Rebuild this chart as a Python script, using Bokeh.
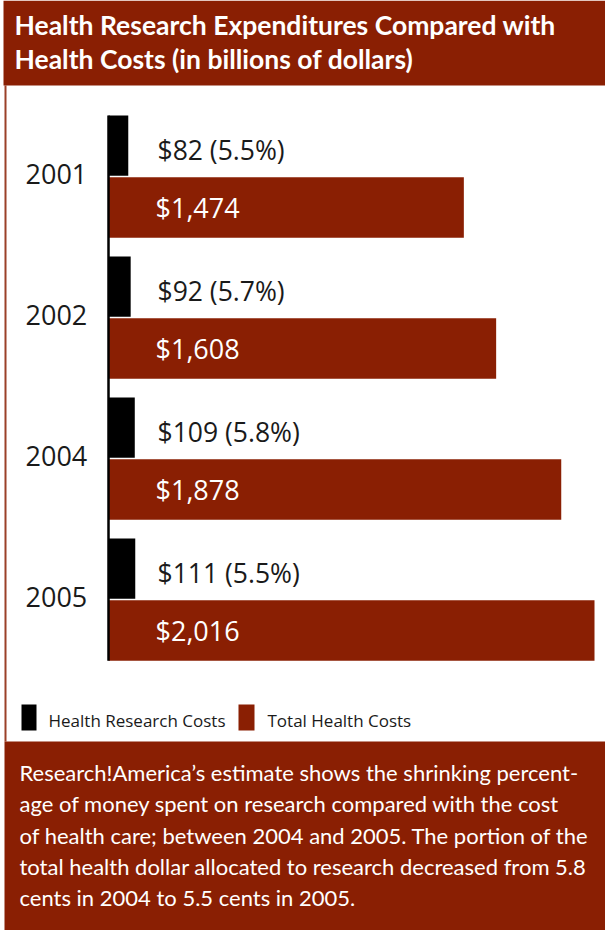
from bokeh.plotting import figure
from bokeh.models import Range1d, ColumnDataSource
from bokeh.core.properties import value
from bokeh.embed import file_html
from bokeh.resources import INLINE

# ---- data ----
years = ["2001", "2002", "2004", "2005"]
research = [82, 92, 109, 111]
research_pct = ["5.5%", "5.7%", "5.8%", "5.5%"]
total = [1474, 1608, 1878, 2016]

title_lines = ["Health Research Expenditures Compared with",
               "Health Costs (in billions of dollars)"]
legend_labels = ["Health Research Costs", "Total Health Costs"]
note_lines = [
    "Research!America\u2019s estimate shows the shrinking percent-",
    "age of money spent on research compared with the cost",
    "of health care; between 2004 and 2005. The portion of the",
    "total health dollar allocated to research decreased from 5.8",
    "cents in 2004 to 5.5 cents in 2005.",
]

RED = "#8A1F03"
INK = "#1a1a1a"
COND = "Lato"
REG = "Open Sans"

W, H = 605, 930
p = figure(width=W, height=H,
           x_range=Range1d(-448.0, 2061.6), y_range=Range1d(5.3475, -1.2482),
           x_axis_type=None, y_axis_type=None, min_border=0,
           toolbar_location=None, output_backend="svg")
p.grid.visible = False
p.outline_line_color = None
p.background_fill_color = "white"
p.border_fill_color = "white"
p.extra_x_ranges = {"px": Range1d(0, W)}
p.extra_y_ranges = {"py": Range1d(H, 0)}

# ---- frame decorations (pixel space) ----
p.quad(left=[3], right=[W], top=[0], bottom=[85], fill_color=RED, line_color=None,
       x_range_name="px", y_range_name="py")
p.quad(left=[4], right=[W], top=[741], bottom=[H], fill_color=RED, line_color=None,
       x_range_name="px", y_range_name="py")
p.quad(left=[4], right=[6], top=[85], bottom=[741], fill_color=RED, line_color=None,
       fill_alpha=0.85, x_range_name="px", y_range_name="py")

p.text(x=[14] * 2, y=[24, 58], text=title_lines, text_color="white",
       text_font=value(COND), text_font_style="bold", text_font_size="26.5px",
       text_baseline="middle", x_range_name="px", y_range_name="py")

# ---- bars ----
g = list(range(len(years)))
src = ColumnDataSource(dict(
    g=g,
    r_top=[v - 0.433 for v in g], r_bot=[v - 0.006 for v in g],
    t_top=[v + 0.006 for v in g], t_bot=[v + 0.435 for v in g],
    research=research, total=total, zero=[0] * len(g),
    rlab=[f"${r} ({pc})" for r, pc in zip(research, research_pct)],
    tlab=[f"${t:,}" for t in total],
    year=years,
    yl=[v - 0.02 for v in g], rl=[v - 0.19 for v in g], tl=[v + 0.22 for v in g],
))
p.quad(left="zero", right="research", top="r_top", bottom="r_bot", source=src,
       fill_color="black", line_color=None)
p.quad(left="zero", right="total", top="t_top", bottom="t_bot", source=src,
       fill_color=RED, line_color=None)
p.segment(x0=[0], x1=[0], y0=[-0.433], y1=[len(years) - 1 + 0.435],
          line_color="black", line_width=2.5)

p.text(x="zero", y="yl", text="year", source=src, x_offset=-83,
       text_color=INK, text_font=value(REG), text_font_size="27px",
       text_baseline="middle")
p.text(x="zero", y="rl", text="rlab", source=src, x_offset=49,
       text_color=INK, text_font=value(REG), text_font_size="26.5px",
       text_baseline="middle")
p.text(x="zero", y="tl", text="tlab", source=src, x_offset=47,
       text_color="white", text_font=value(REG), text_font_size="27px",
       text_baseline="middle")

# ---- legend ----
p.quad(left=[21, 238], right=[36, 254], top=[704, 704], bottom=[730, 730],
       fill_color=["black", RED], line_color=None, x_range_name="px", y_range_name="py")
p.text(x=[48, 267], y=[720, 720], text=legend_labels, text_color=INK,
       text_font=value(REG), text_font_size="17px", text_baseline="middle",
       x_range_name="px", y_range_name="py")

# ---- note ----
p.text(x=[19] * len(note_lines), y=[772 + 31.3 * i for i in range(len(note_lines))],
       text=note_lines, text_color="white", text_font=value(COND),
       text_font_size="22px", text_baseline="middle",
       x_range_name="px", y_range_name="py")

open("out.html", "w").write(file_html(p, INLINE))
